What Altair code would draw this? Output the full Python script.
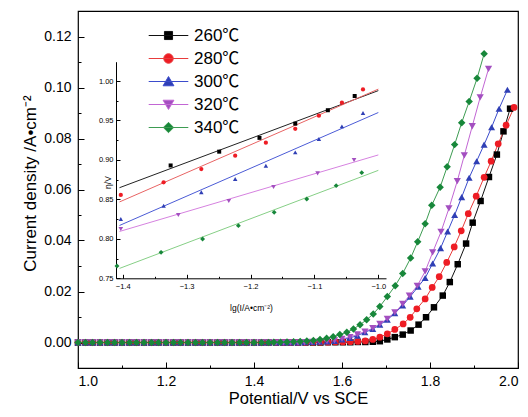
import altair as alt
import pandas as pd

FONT = "Liberation Sans, Arial, sans-serif"
LEGEND_FONT = "Liberation Sans, Noto Sans CJK SC, sans-serif"

series = ["260℃", "280℃", "300℃", "320℃", "340℃"]
marker_colors = ["#000000", "#ee1c24", "#2f3fb5", "#a34fc0", "#17873a"]
line_colors = ["#111111", "#e83c3c", "#3b4ccc", "#c266d4", "#3d9c52"]
inset_line_colors = ["#222222", "#e86464", "#4b5bd6", "#d682e0", "#86cf86"]
shapes = ["square", "circle", "triangle-up", "triangle-down", "diamond"]
main_sizes = [42, 56, 64, 64, 64]
inset_sizes = [16, 24, 26, 26, 24]
legend_paths = [
    "M-4.4,0H4.4M-0.9,-0.9H0.9V0.9H-0.9Z",
    "M-4.4,0H4.4M1.05,0A1.05,1.05,0,1,1,-1.05,0A1.05,1.05,0,1,1,1.05,0Z",
    "M-4.4,0H4.4M0,-1.1L1.2,0.95L-1.2,0.95Z",
    "M-4.4,0H4.4M0,1.1L1.2,-0.95L-1.2,-0.95Z",
    "M-4.4,0H4.4M0,-1.15L1.15,0L0,1.15L-1.15,0Z",
]

# baseline potentials (current ~ 0)
base_potential = [1.000, 1.017, 1.033, 1.050, 1.067, 1.083, 1.100, 1.117, 1.133, 1.150,
                  1.167, 1.183, 1.200, 1.217, 1.233, 1.250, 1.267, 1.283, 1.300, 1.317,
                  1.333, 1.350, 1.367, 1.383, 1.400, 1.417, 1.433, 1.450, 1.467, 1.483, 1.500]

pot_260 = [1.517, 1.534, 1.551, 1.568, 1.585, 1.602, 1.619, 1.636, 1.653, 1.670, 1.686, 1.703,
           1.720, 1.738, 1.756, 1.774, 1.791, 1.809, 1.829, 1.845, 1.863, 1.882, 1.897, 1.915,
           1.934, 1.952, 1.967, 1.982]
cur_260 = [0.0000, 0.0000, 0.0000, 0.0001, 0.0001, 0.0001, 0.0001, 0.0002, 0.0002, 0.0003, 0.0005, 0.0012,
           0.0021, 0.0031, 0.0047, 0.0070, 0.0099, 0.0138, 0.0184, 0.0237, 0.0307, 0.0388, 0.0470, 0.0555,
           0.0649, 0.0737, 0.0828, 0.0917]

pot_280 = [1.517, 1.534, 1.551, 1.568, 1.585, 1.602, 1.619, 1.636, 1.653, 1.670, 1.686, 1.703,
           1.720, 1.739, 1.755, 1.770, 1.789, 1.805, 1.821, 1.838, 1.855, 1.871, 1.887, 1.905,
           1.923, 1.939, 1.955, 1.973, 1.991]
cur_280 = [0.0000, 0.0001, 0.0001, 0.0001, 0.0002, 0.0002, 0.0003, 0.0004, 0.0006, 0.0012, 0.0021, 0.0034,
           0.0051, 0.0073, 0.0099, 0.0132, 0.0171, 0.0216, 0.0258, 0.0314, 0.0375, 0.0438, 0.0505, 0.0574,
           0.0648, 0.0711, 0.0779, 0.0852, 0.0922]

pot_300 = [1.515, 1.532, 1.549, 1.566, 1.583, 1.600, 1.618, 1.635, 1.652, 1.670, 1.686, 1.703,
           1.720, 1.738, 1.755, 1.773, 1.789, 1.806, 1.824, 1.840, 1.856, 1.872, 1.889, 1.906,
           1.923, 1.940, 1.957, 1.976]
cur_300 = [0.0001, 0.0002, 0.0003, 0.0004, 0.0006, 0.0012, 0.0018, 0.0027, 0.0040, 0.0053, 0.0070, 0.0089,
           0.0115, 0.0145, 0.0180, 0.0219, 0.0253, 0.0310, 0.0370, 0.0435, 0.0500, 0.0570, 0.0646, 0.0711,
           0.0776, 0.0844, 0.0917, 0.0991]

pot_320 = [1.515, 1.532, 1.549, 1.566, 1.583, 1.600, 1.618, 1.635, 1.652, 1.670, 1.686, 1.703,
           1.720, 1.738, 1.753, 1.771, 1.789, 1.806, 1.825, 1.843, 1.862, 1.878, 1.896, 1.914, 1.933]
cur_320 = [0.0001, 0.0002, 0.0003, 0.0005, 0.0008, 0.0014, 0.0021, 0.0032, 0.0043, 0.0056, 0.0073, 0.0093,
           0.0118, 0.0151, 0.0184, 0.0222, 0.0279, 0.0353, 0.0434, 0.0526, 0.0633, 0.0734, 0.0848, 0.0961, 0.1073]

pot_340 = [1.445, 1.460, 1.475, 1.490, 1.505, 1.520, 1.535, 1.550, 1.565, 1.580, 1.595, 1.611,
           1.626, 1.641, 1.656, 1.671, 1.686, 1.703, 1.721, 1.738, 1.756, 1.772, 1.789, 1.804,
           1.823, 1.839, 1.856, 1.872, 1.889, 1.907, 1.923]
cur_340 = [0.0001, 0.0001, 0.0002, 0.0003, 0.0004, 0.0006, 0.0008, 0.0012, 0.0017, 0.0023, 0.0031, 0.0040,
           0.0053, 0.0070, 0.0089, 0.0112, 0.0141, 0.0180, 0.0223, 0.0271, 0.0331, 0.0395, 0.0466, 0.0538,
           0.0609, 0.0689, 0.0776, 0.0862, 0.0945, 0.1036, 0.1132]

# inset Tafel data
lg_260 = [-1.325, -1.249, -1.186, -1.130, -1.079, -1.037]
eta_260 = [0.893, 0.9105, 0.928, 0.946, 0.963, 0.981]
lg_280 = [-1.403, -1.336, -1.277, -1.224, -1.176, -1.130, -1.093, -1.057, -1.024]
eta_280 = [0.8556, 0.8716, 0.8885, 0.9054, 0.9219, 0.9395, 0.9561, 0.9726, 0.9894]
lg_300 = [-1.403, -1.336, -1.277, -1.224, -1.176, -1.130, -1.093, -1.057, -1.024]
eta_300 = [0.8252, 0.842, 0.859, 0.8758, 0.8927, 0.9096, 0.9265, 0.9426, 0.9595]
lg_320 = [-1.403, -1.313, -1.234, -1.164, -1.095, -1.038]
eta_320 = [0.8125, 0.8302, 0.848, 0.8657, 0.883, 0.900]
lg_340 = [-1.409, -1.340, -1.275, -1.219, -1.163, -1.112, -1.066, -1.026]
eta_340 = [0.7656, 0.7829, 0.7998, 0.8167, 0.8336, 0.8505, 0.8674, 0.8839]

main_x_ticks = [1.0, 1.2, 1.4, 1.6, 1.8, 2.0]
main_x_minor = [1.1, 1.3, 1.5, 1.7, 1.9]
main_y_ticks = [0.00, 0.02, 0.04, 0.06, 0.08, 0.10, 0.12]
main_y_minor = [0.01, 0.03, 0.05, 0.07, 0.09, 0.11]
inset_x_ticks = [-1.4, -1.3, -1.2, -1.1, -1.0]
inset_x_minor = [-1.35, -1.25, -1.15, -1.05]
inset_y_ticks = [0.75, 0.80, 0.85, 0.90, 0.95, 1.00]
inset_y_minor = [0.775, 0.825, 0.875, 0.925, 0.975]

W, H = 440, 357
INSET_X_RANGE = [38, 308]
INSET_Y_RANGE = [267.3, 50.7]

rising = {
    "260℃": (pot_260, cur_260), "280℃": (pot_280, cur_280), "300℃": (pot_300, cur_300),
    "320℃": (pot_320, cur_320), "340℃": (pot_340, cur_340),
}
tafel = {
    "260℃": (lg_260, eta_260), "280℃": (lg_280, eta_280), "300℃": (lg_300, eta_300),
    "320℃": (lg_320, eta_320), "340℃": (lg_340, eta_340),
}

rows = []
for s in series:
    pots, curs = rising[s]
    for p in base_potential:
        if p < pots[0] - 0.008:
            rows.append({"series": s, "potential": p, "current": 0.0})
    for p, c in zip(pots, curs):
        rows.append({"series": s, "potential": p, "current": c})
main_df = pd.DataFrame(rows)

irows = []
for s in series:
    for x, y in zip(*tafel[s]):
        irows.append({"series": s, "lg": x, "eta": y})
inset_df = pd.DataFrame(irows)


def mx():
    return alt.Scale(domain=[1.0, 2.0], nice=False, zero=False)


def my():
    return alt.Scale(domain=[-0.01, 0.13], nice=False, zero=False)


def ix():
    return alt.Scale(domain=[-1.4105, -0.988], range=INSET_X_RANGE, nice=False, zero=False)


def iy():
    return alt.Scale(domain=[0.75, 1.0245], range=INSET_Y_RANGE, nice=False, zero=False)


def axis_layer(channel, values, scale, axis):
    df = pd.DataFrame({"v": values})
    if channel == "x":
        enc = {"x": alt.X("v:Q", scale=scale, axis=axis)}
    else:
        enc = {"y": alt.Y("v:Q", scale=scale, axis=axis)}
    return alt.Chart(df).mark_point(opacity=0).encode(**enc)


def tick_axis(orient, offset, values, size):
    return alt.Axis(orient=orient, offset=offset, values=values, labels=False, domain=False,
                    ticks=True, tickSize=size, tickWidth=1, title=None, grid=False)


layers = []

# main curves
layers.append(
    alt.Chart(main_df).mark_line(strokeWidth=1).encode(
        x=alt.X("potential:Q", scale=mx(), axis=None),
        y=alt.Y("current:Q", scale=my(), axis=None),
        color=alt.Color("series:N", scale=alt.Scale(domain=series, range=line_colors), legend=None),
        detail="series:N",
    )
)
layers.append(
    alt.Chart(main_df).mark_point(filled=True, opacity=1).encode(
        x=alt.X("potential:Q", scale=mx(), axis=None),
        y=alt.Y("current:Q", scale=my(), axis=None),
        color=alt.Color("series:N", scale=alt.Scale(domain=series, range=marker_colors), legend=None),
        shape=alt.Shape("series:N", scale=alt.Scale(domain=series, range=shapes), legend=None),
        size=alt.Size("series:N", scale=alt.Scale(domain=series, range=main_sizes), legend=None),
    )
)

# inset fits and points
layers.append(
    alt.Chart(inset_df).transform_regression("lg", "eta", groupby=["series"], extent=[-1.405, -1.0])
    .mark_line(strokeWidth=1).encode(
        x=alt.X("lg:Q", scale=ix(), axis=None),
        y=alt.Y("eta:Q", scale=iy(), axis=None),
        color=alt.Color("series:N", scale=alt.Scale(domain=series, range=inset_line_colors), legend=None),
    )
)
layers.append(
    alt.Chart(inset_df).mark_point(filled=True, opacity=1).encode(
        x=alt.X("lg:Q", scale=ix(), axis=None),
        y=alt.Y("eta:Q", scale=iy(), axis=None),
        color=alt.Color("series:N", scale=alt.Scale(domain=series, range=marker_colors), legend=None),
        shape=alt.Shape("series:N", scale=alt.Scale(domain=series, range=shapes), legend=None),
        size=alt.Size("series:N", scale=alt.Scale(domain=series, range=inset_sizes), legend=None),
    )
)

# legend (line + marker symbols)
leg = dict(orient="none", legendX=82, legendY=16, title=None, symbolSize=81, symbolStrokeWidth=1,
           symbolOpacity=1, labelFontSize=17, labelFont=LEGEND_FONT, labelColor="#000000",
           labelOffset=17, rowPadding=5, padding=0)
leg_df = pd.DataFrame({"series": series})
layers.append(
    alt.Chart(leg_df).mark_point(filled=True, opacity=0).encode(
        fill=alt.Fill("series:N", scale=alt.Scale(domain=series, range=marker_colors), legend=alt.Legend(**leg)),
        stroke=alt.Stroke("series:N", scale=alt.Scale(domain=series, range=line_colors), legend=alt.Legend(**leg)),
        shape=alt.Shape("series:N", scale=alt.Scale(domain=series, range=legend_paths), legend=alt.Legend(**leg)),
    )
)

# main axes
layers.append(axis_layer("x", main_x_ticks, mx(), alt.Axis(
    orient="bottom", values=main_x_ticks, format=".1f", ticks=False, domain=False, grid=False,
    labelFontSize=14, labelPadding=6, title="Potential/V vs SCE", titleFontSize=16.5,
    titleX=W / 2, titleY=30.5, titleAlign="center", titleBaseline="middle")))
layers.append(axis_layer("x", main_x_ticks, mx(), tick_axis("top", -H, main_x_ticks, 6)))
layers.append(axis_layer("x", main_x_minor, mx(), tick_axis("top", -H, main_x_minor, 3)))
layers.append(axis_layer("y", main_y_ticks, my(), alt.Axis(
    orient="left", values=main_y_ticks, format=".2f", ticks=False, domain=False, grid=False,
    labelFontSize=14, labelPadding=7, title="Current density /A•cm⁻²", titleFontSize=17,
    titleAngle=270, titleX=-48, titleY=172, titleAlign="center", titleBaseline="middle")))
layers.append(axis_layer("y", main_y_ticks, my(), tick_axis("right", -W, main_y_ticks, 6)))
layers.append(axis_layer("y", main_y_minor, my(), tick_axis("right", -W, main_y_minor, 3)))

# inset axes
inset_bottom_offset = -(H - INSET_Y_RANGE[0])
layers.append(axis_layer("x", inset_x_ticks, ix(), alt.Axis(
    orient="bottom", offset=inset_bottom_offset, values=inset_x_ticks, format=".1f", ticks=False,
    domain=True, domainWidth=1, grid=False, labelFontSize=7.5, labelPadding=4,
    title="lg(I/A•cm⁻²)", titleFontSize=8.5, titleX=(INSET_X_RANGE[0] + INSET_X_RANGE[1]) / 2,
    titleY=28.7, titleAlign="center", titleBaseline="middle")))
layers.append(axis_layer("x", inset_x_ticks, ix(), tick_axis("top", -INSET_Y_RANGE[0], inset_x_ticks, 4)))
layers.append(axis_layer("x", inset_x_minor, ix(), tick_axis("top", -INSET_Y_RANGE[0], inset_x_minor, 2)))
layers.append(axis_layer("y", inset_y_ticks, iy(), alt.Axis(
    orient="left", offset=-INSET_X_RANGE[0], values=inset_y_ticks, format=".2f", ticks=False,
    domain=True, domainWidth=1, grid=False, labelFontSize=7.5, labelPadding=3,
    title="η/V", titleFontSize=8.5, titleAngle=270, titleX=-9, titleY=171,
    titleAlign="center", titleBaseline="middle")))
layers.append(axis_layer("y", inset_y_ticks, iy(), tick_axis("right", -(W - INSET_X_RANGE[0]), inset_y_ticks, 4)))
layers.append(axis_layer("y", inset_y_minor, iy(), tick_axis("right", -(W - INSET_X_RANGE[0]), inset_y_minor, 2)))

chart = alt.layer(*layers).resolve_scale(
    x="independent", y="independent", color="independent", shape="independent",
    size="independent", fill="independent", stroke="independent",
).properties(
    width=W, height=H,
    autosize=alt.AutoSizeParams(type="none"),
    padding={"left": 70, "top": 3, "right": 2, "bottom": 41},
    background="white",
).configure_view(
    stroke="#000000", strokeWidth=1.2,
).configure_axis(
    labelFont=FONT, titleFont=FONT, labelColor="#000000", titleColor="#000000",
    tickColor="#000000", domainColor="#000000", titleFontWeight="normal", grid=False,
)

chart.save("out.html", embed_options={"renderer": "svg", "actions": False})
